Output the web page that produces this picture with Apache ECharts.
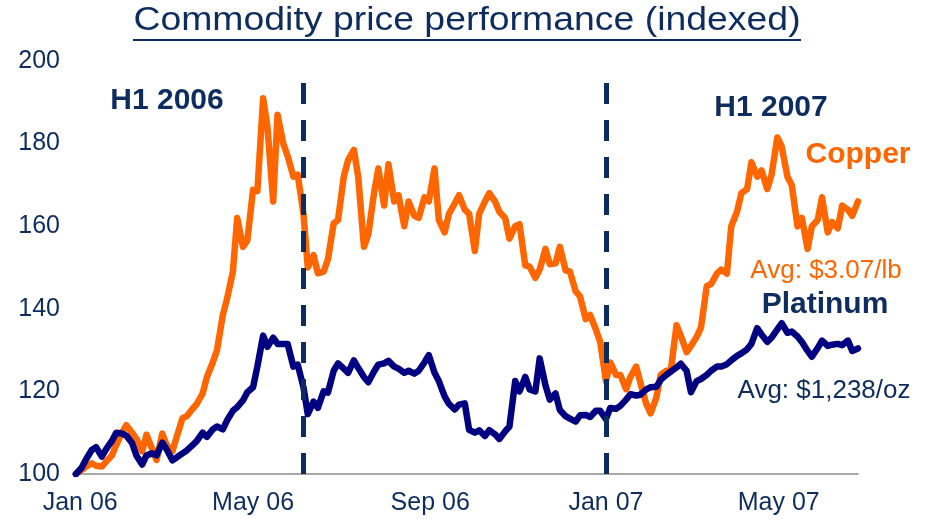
<!DOCTYPE html>
<html>
<head>
<meta charset="utf-8">
<script src="https://cdn.jsdelivr.net/npm/echarts@6/dist/echarts.min.js"></script>
<style>
  html, body { margin: 0; padding: 0; background: #fff; }
  #chart { width: 931px; height: 520px; }
</style>
</head>
<body>
<div id="chart"></div>
<script>
// twice-weekly observations, indexed to 100
var dates = [
  '2005-12-29',
  '2006-01-02','2006-01-05','2006-01-09','2006-01-12','2006-01-16','2006-01-19','2006-01-23','2006-01-26','2006-01-30',
  '2006-02-02','2006-02-06','2006-02-09','2006-02-13','2006-02-16','2006-02-20','2006-02-23','2006-02-27',
  '2006-03-02','2006-03-06','2006-03-09','2006-03-13','2006-03-16','2006-03-20','2006-03-23','2006-03-27','2006-03-30',
  '2006-04-03','2006-04-06','2006-04-10','2006-04-13','2006-04-17','2006-04-20','2006-04-24','2006-04-27',
  '2006-05-01','2006-05-04','2006-05-08','2006-05-11','2006-05-15','2006-05-18','2006-05-22','2006-05-25','2006-05-29',
  '2006-06-01','2006-06-05','2006-06-08','2006-06-12','2006-06-15','2006-06-19','2006-06-22','2006-06-26','2006-06-29',
  '2006-07-03','2006-07-06','2006-07-10','2006-07-13','2006-07-17','2006-07-20','2006-07-24','2006-07-27','2006-07-31',
  '2006-08-03','2006-08-07','2006-08-10','2006-08-14','2006-08-17','2006-08-21','2006-08-24','2006-08-28','2006-08-31',
  '2006-09-04','2006-09-07','2006-09-11','2006-09-14','2006-09-18','2006-09-21','2006-09-25','2006-09-28',
  '2006-10-02','2006-10-05','2006-10-09','2006-10-12','2006-10-16','2006-10-19','2006-10-23','2006-10-26','2006-10-30',
  '2006-11-02','2006-11-06','2006-11-09','2006-11-13','2006-11-16','2006-11-20','2006-11-23','2006-11-27','2006-11-30',
  '2006-12-04','2006-12-07','2006-12-11','2006-12-14','2006-12-18','2006-12-21','2006-12-25','2006-12-28',
  '2007-01-01','2007-01-04','2007-01-08','2007-01-11','2007-01-15','2007-01-18','2007-01-22','2007-01-25','2007-01-29',
  '2007-02-01','2007-02-05','2007-02-08','2007-02-12','2007-02-15','2007-02-19','2007-02-22','2007-02-26',
  '2007-03-01','2007-03-05','2007-03-08','2007-03-12','2007-03-15','2007-03-19','2007-03-22','2007-03-26','2007-03-29',
  '2007-04-02','2007-04-05','2007-04-09','2007-04-12','2007-04-16','2007-04-19','2007-04-23','2007-04-26','2007-04-30',
  '2007-05-03','2007-05-07','2007-05-10','2007-05-14','2007-05-17','2007-05-21','2007-05-24','2007-05-28','2007-05-31',
  '2007-06-04','2007-06-07','2007-06-11','2007-06-14','2007-06-18','2007-06-21','2007-06-25'
];

var copper = [
  100,
  101, 101.8, 102.6, 102, 101.8, 103, 104.5, 107, 110,
  111.8, 110, 108.5, 105.5, 109.5, 106, 103.4, 109.8,
  107, 105.5, 109, 113.5, 114, 115.8, 117, 119.5, 123.5,
  127, 130, 138.5, 142.5, 149, 162, 155, 156.5,
  168.8, 168.5, 191, 184, 166, 187, 180, 177, 172,
  172.5, 163, 150, 153, 148.6, 149, 152, 160.7, 161.5,
  172, 176, 178.5, 172, 155, 158, 168, 174, 165,
  175, 166, 167.5, 160, 166, 162.5, 162, 167, 166,
  174, 161.5, 158.5, 163, 165.5, 167.5, 164, 163,
  154, 163, 166, 168, 166, 163.5, 162, 157, 160,
  160.5, 150.5, 150.2, 147.5, 149.5, 154.5, 150.8, 151, 155,
  149.3, 149, 144.2, 143, 137.5, 138.5, 135, 132,
  122.5, 127, 124, 124, 120.5, 123.5, 126, 122, 117,
  114.7, 118.5, 124, 125, 125, 136, 133.5, 129.5,
  131, 133.2, 135.5, 145.5, 146, 148.5, 149.5, 148.5, 160,
  163.5, 168, 169, 175.5, 172, 173.5, 169, 172.5, 181.5,
  179.3, 172, 170, 160, 162, 154.5, 160, 161.5, 167,
  158.5, 161, 159.5, 165, 164, 162.5, 166
];

var platinum = [
  100,
  101.5, 103.5, 105.8, 106.5, 104.2, 106, 108, 110, 109.8,
  109.3, 107.5, 104.5, 102.3, 104.5, 105, 104.5, 107.6,
  106, 103.3, 104, 105, 105.7, 107, 108, 110, 109,
  110.8, 111.5, 110.8, 113, 115.3, 116.2, 117.8, 119.8,
  121, 126, 133.5, 130.8, 133, 131.5, 131.5, 131.5, 126,
  126.5, 121, 114.5, 117.5, 116, 120, 119.7, 125, 126.8,
  125.5, 124.5, 127.5, 125.7, 123.5, 122.2, 124.8, 126.5, 126.8,
  127.4, 126, 125.5, 124.5, 125, 124.3, 125, 127, 128.8,
  124.5, 122.5, 118.8, 117, 115.6, 116.8, 117.1, 110.7,
  110, 110.6, 109.2, 110.6, 109.6, 108.5, 110.3, 111.5, 122.5,
  120, 123.5, 120.5, 120, 128, 121.5, 118, 119.5, 115.5,
  114, 113.4, 112.7, 114.2, 114.3, 113.8, 115.3, 115.3,
  113.3, 116, 115.8, 116.5, 118, 119.3, 119, 119.2, 120.5,
  121, 121.1, 122.8, 124, 124.8, 125.8, 126.7, 125,
  119.8, 122.5, 123, 124, 125, 126, 126, 126.6, 127.5,
  128.6, 129.2, 130.2, 131.5, 135.3, 133.8, 132, 133, 135,
  136.5, 134.2, 134.5, 133.3, 132, 129.8, 128.4, 130.5, 132.3,
  131, 131.3, 131.5, 131.2, 132.3, 129.8, 130.4
];

var xTickDates = ['2006-01-01', '2006-05-01', '2006-09-01', '2007-01-01', '2007-05-01'];
var xTickLabels = ['Jan 06', 'May 06', 'Sep 06', 'Jan 07', 'May 07'];
var periodEnds = ['2006-06-05', '2007-01-01'];

var NAVY_TXT = '#0e2d5e';
var ORANGE = '#ff6600';
var NAVY = '#000080';
var FONT = '"Liberation Sans", Arial, sans-serif';

// dates -> day number (days since 1 Jan 2006)
function toDay(s) {
  var p = s.split('-');
  return Math.round((Date.UTC(+p[0], +p[1] - 1, +p[2]) - Date.UTC(2006, 0, 1)) / 86400000);
}
var xTickDays = xTickDates.map(toDay);

var myChart = echarts.init(document.getElementById('chart'));

var option = {
  animation: false,
  backgroundColor: '#fff',
  grid: { left: 73, right: 73, top: 61, bottom: 46 },
  xAxis: {
    type: 'value',
    min: toDay('2005-12-27'),
    max: toDay('2007-06-25'),
    axisLine: { onZero: false, lineStyle: { color: '#8c8c8c', width: 1.5 } },
    axisTick: { show: false },
    splitLine: { show: false },
    axisLabel: {
      customValues: xTickDays,
      color: NAVY_TXT,
      fontSize: 25,
      fontFamily: FONT,
      margin: 17,
      formatter: function (v) {
        var i = xTickDays.indexOf(Math.round(v));
        return i >= 0 ? xTickLabels[i] : '';
      }
    }
  },
  yAxis: {
    type: 'value',
    min: 100,
    max: 200,
    interval: 20,
    axisLine: { show: false },
    axisTick: { show: false },
    splitLine: { show: false },
    axisLabel: { color: NAVY_TXT, fontSize: 25, fontFamily: FONT, margin: 13 }
  },
  series: [
    {
      // half-year dividers
      type: 'line',
      data: [],
      silent: true,
      z: 1,
      markLine: {
        silent: true,
        symbol: 'none',
        label: { show: false },
        lineStyle: { color: '#0b2d5e', width: 5, type: [21, 16] },
        data: periodEnds.map(function (d) {
          return [{ coord: [toDay(d), 100] }, { coord: [toDay(d), 195.5] }];
        })
      }
    },
    {
      name: 'Copper',
      type: 'line',
      z: 2,
      showSymbol: false,
      data: dates.map(function (d, i) { return [toDay(d), copper[i]]; }),
      lineStyle: { color: ORANGE, width: 6.5, cap: 'round', join: 'round' },
      itemStyle: { color: ORANGE }
    },
    {
      name: 'Platinum',
      type: 'line',
      z: 3,
      showSymbol: false,
      data: dates.map(function (d, i) { return [toDay(d), platinum[i]]; }),
      lineStyle: { color: NAVY, width: 6.5, cap: 'round', join: 'round' },
      itemStyle: { color: NAVY }
    }
  ],
  graphic: [
    {
      type: 'text', x: 467, y: 21, scaleX: 1.1,
      style: { text: 'Commodity price performance (indexed)', fill: NAVY_TXT, font: '34px ' + FONT, align: 'center', verticalAlign: 'middle' }
    },
    {
      type: 'line', shape: { x1: 133, y1: 40, x2: 801, y2: 40 },
      style: { stroke: NAVY_TXT, lineWidth: 2 }
    },
    {
      type: 'text', x: 167, y: 101,
      style: { text: 'H1 2006', fill: NAVY_TXT, font: 'bold 30px ' + FONT, align: 'center', verticalAlign: 'middle' }
    },
    {
      type: 'text', x: 771, y: 108,
      style: { text: 'H1 2007', fill: NAVY_TXT, font: 'bold 30px ' + FONT, align: 'center', verticalAlign: 'middle' }
    },
    {
      type: 'text', x: 858, y: 155,
      style: { text: 'Copper', fill: ORANGE, font: 'bold 30px ' + FONT, align: 'center', verticalAlign: 'middle' }
    },
    {
      type: 'text', x: 826, y: 271,
      style: { text: 'Avg: $3.07/lb', fill: ORANGE, font: '26px ' + FONT, align: 'center', verticalAlign: 'middle' }
    },
    {
      type: 'text', x: 825, y: 305,
      style: { text: 'Platinum', fill: NAVY_TXT, font: 'bold 30px ' + FONT, align: 'center', verticalAlign: 'middle' }
    },
    {
      type: 'text', x: 824, y: 391,
      style: { text: 'Avg: $1,238/oz', fill: NAVY_TXT, font: '26px ' + FONT, align: 'center', verticalAlign: 'middle' }
    }
  ]
};

myChart.setOption(option);
</script>
</body>
</html>
